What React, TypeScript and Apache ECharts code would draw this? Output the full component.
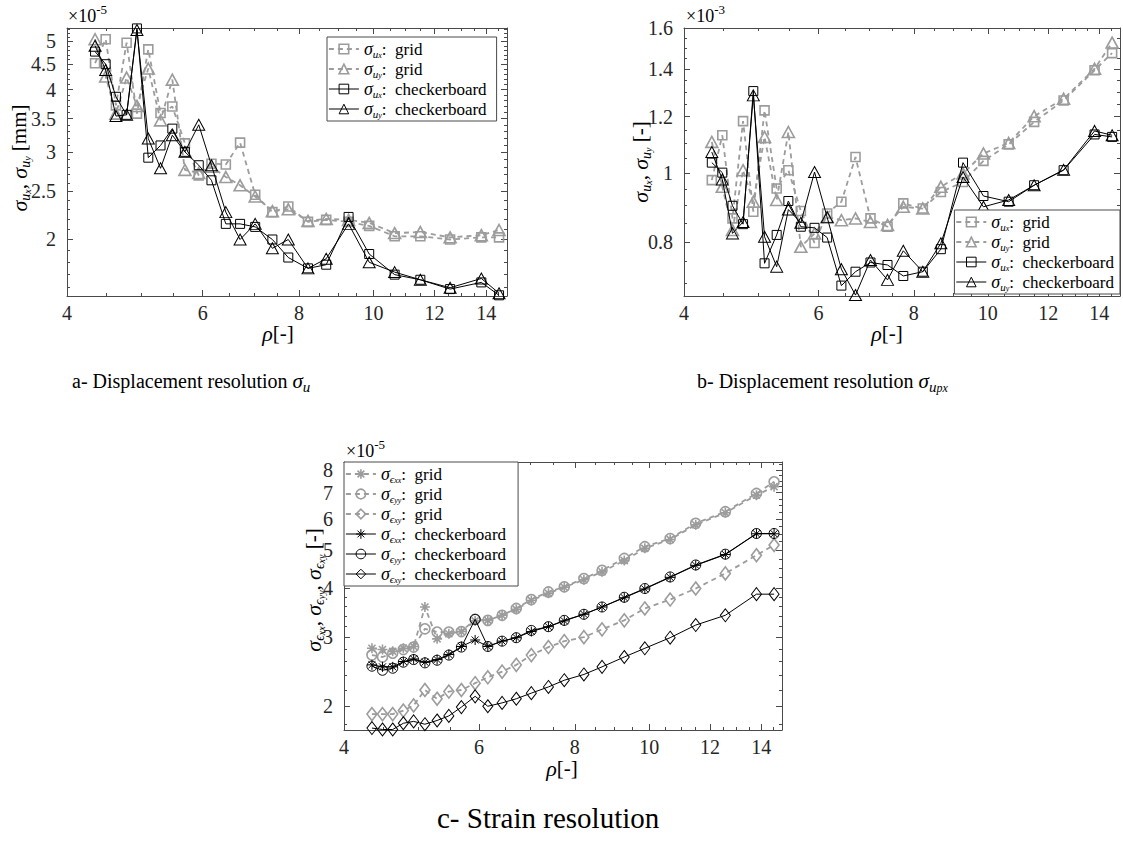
import React, { useEffect, useRef } from "react";
import * as echarts from "echarts";

// ---------- data ----------
const rho = [4.35, 4.49, 4.63, 4.78, 4.93, 5.1, 5.29, 5.48, 5.69, 5.93, 6.16, 6.43, 6.71, 7.02, 7.39, 7.75, 8.22, 8.68, 9.28, 9.87, 10.65, 11.5, 12.57, 13.8, 14.55];

// panel a (x 1e-5 mm)
const aUxGrid = [4.52, 5.05, 3.72, 4.97, 3.58, 4.82, 3.59, 3.7, 3.12, 2.69, 2.84, 2.83, 3.13, 2.46, 2.27, 2.33, 2.17, 2.19, 2.17, 2.13, 2.03, 2.03, 2.0, 2.02, 2.02];
const aUyGrid = [5.05, 4.25, 3.58, 4.23, 3.71, 4.41, 3.47, 4.19, 2.76, 2.72, 2.8, 2.67, 2.57, 2.44, 2.28, 2.3, 2.18, 2.2, 2.19, 2.16, 2.06, 2.07, 2.02, 2.04, 2.09];
const aUxCheck = [4.77, 4.5, 3.87, 3.56, 5.31, 2.92, 3.09, 3.34, 3.0, 2.82, 2.63, 2.15, 2.15, 2.12, 2.0, 1.84, 1.75, 1.78, 2.22, 1.87, 1.7, 1.66, 1.59, 1.64, 1.545];
const aUyCheck = [4.9, 4.38, 3.54, 3.56, 5.27, 3.19, 2.78, 3.24, 3.0, 3.4, 2.82, 2.27, 2.0, 2.15, 1.92, 2.0, 1.75, 1.83, 2.15, 1.8, 1.72, 1.66, 1.6, 1.67, 1.56];

// panel b (x 1e-3 px)
const bUxGrid = [0.977, 1.13, 0.863, 1.183, 0.882, 1.225, 0.951, 1.009, 0.884, 0.797, 0.877, 0.911, 1.053, 0.863, 0.84, 0.906, 0.891, 0.94, 0.971, 1.04, 1.097, 1.18, 1.265, 1.395, 1.475];
const bUyGrid = [1.106, 0.956, 0.831, 1.009, 0.911, 1.124, 0.916, 1.142, 0.787, 0.822, 0.867, 0.858, 0.863, 0.853, 0.845, 0.896, 0.891, 0.956, 0.998, 1.065, 1.102, 1.202, 1.272, 1.402, 1.526];
const bUxCheck = [1.034, 1.001, 0.899, 0.847, 1.304, 0.746, 0.818, 0.913, 0.84, 0.837, 0.811, 0.694, 0.726, 0.748, 0.742, 0.716, 0.726, 0.781, 1.034, 0.928, 0.911, 0.961, 1.009, 1.133, 1.124];
const bUyCheck = [1.07, 0.979, 0.822, 0.853, 1.286, 0.813, 0.738, 0.888, 0.851, 1.003, 0.866, 0.732, 0.673, 0.754, 0.707, 0.777, 0.726, 0.796, 0.987, 0.896, 0.916, 0.961, 1.01, 1.146, 1.13];

// panel c (x 1e-5)
const cExxGrid = [2.81, 2.79, 2.76, 2.81, 2.84, 3.58, 2.97, 3.06, 3.1, 3.3, 3.31, 3.41, 3.53, 3.72, 3.88, 4.02, 4.2, 4.4, 4.7, 5.05, 5.32, 5.8, 6.22, 6.9, 7.25];
const cEyyGrid = [2.7, 2.67, 2.73, 2.79, 2.83, 3.15, 3.09, 3.09, 3.1, 3.33, 3.31, 3.41, 3.55, 3.74, 3.91, 4.03, 4.23, 4.44, 4.76, 5.1, 5.35, 5.85, 6.26, 6.97, 7.46];
const cExyGrid = [1.91, 1.91, 1.91, 1.95, 2.01, 2.2, 2.09, 2.18, 2.2, 2.29, 2.37, 2.45, 2.55, 2.7, 2.83, 2.93, 3.0, 3.14, 3.31, 3.55, 3.74, 3.99, 4.36, 4.85, 5.15];
const cExxCheck = [2.55, 2.52, 2.52, 2.6, 2.64, 2.59, 2.63, 2.71, 2.84, 2.95, 2.84, 2.93, 2.99, 3.1, 3.19, 3.3, 3.43, 3.58, 3.78, 3.98, 4.26, 4.57, 4.87, 5.5, 5.5];
const cEyyCheck = [2.53, 2.47, 2.5, 2.59, 2.63, 2.58, 2.62, 2.7, 2.83, 3.33, 2.84, 2.93, 2.99, 3.12, 3.19, 3.31, 3.43, 3.58, 3.79, 3.99, 4.27, 4.58, 4.88, 5.51, 5.51];
const cExyCheck = [1.76, 1.745, 1.745, 1.81, 1.83, 1.8, 1.84, 1.89, 1.99, 2.12, 2.0, 2.04, 2.09, 2.16, 2.24, 2.33, 2.41, 2.52, 2.67, 2.81, 2.99, 3.22, 3.41, 3.86, 3.86];

// tick labels
const xMajor = [4, 6, 8, 10, 12, 14];
const aYMajor = [2, 2.5, 3, 3.5, 4, 4.5, 5];
const bYMajor = [0.8, 1, 1.2, 1.4, 1.6];
const cYMajor = [2, 3, 4, 5, 6, 7, 8];

// ---------- styles ----------
const SERIF = "Liberation Serif, Times New Roman, serif";
const GREY = "#9c9c9c";
const AX = "#4a4a4a";
const LN = Math.log;

function steps(a: number, b: number, s: number) {
  const out: number[] = [];
  for (let v = a; v <= b + 1e-9; v += s) out.push(Math.round(v * 1000) / 1000);
  return out;
}
const notMajor = (maj: number[]) => (v: number) => !maj.some((m) => Math.abs(m - v) < 1e-6);
const xMinor = steps(4, 14.5, 0.5).filter(notMajor(xMajor));
const aYMinor = steps(1.6, 5.3, 0.1).filter(notMajor(aYMajor));
const bYMinor = steps(0.7, 1.55, 0.05).filter(notMajor(bYMajor));
const cYMinor = [...steps(1.8, 3.8, 0.2), ...steps(4.25, 8.25, 0.25)].filter(notMajor(cYMajor));

const fmt = (v: number) => String(parseFloat(Math.exp(v).toPrecision(6)));

function axesPair(kind: "x" | "y", gridIndex: number, min: number, max: number, major: number[], minor: number[]) {
  const pos = kind === "x" ? ["bottom", "top"] : ["left", "right"];
  const base: any = {
    type: "value",
    gridIndex,
    min: LN(min),
    max: LN(max),
    splitLine: { show: false },
    axisLabel: { show: false },
    axisLine: { show: false, onZero: false },
    axisTick: { show: false },
  };
  const line = { show: true, onZero: false, lineStyle: { color: AX, width: 1 } };
  const majT = { show: true, inside: true, length: 6, customValues: major.map(LN), lineStyle: { color: AX, width: 1 } };
  const minT = { show: true, inside: true, length: 3, customValues: minor.map(LN), lineStyle: { color: AX, width: 1 } };
  return [
    {
      ...base,
      position: pos[0],
      axisLine: line,
      axisTick: majT,
      axisLabel: {
        show: true,
        customValues: major.map(LN),
        formatter: fmt,
        color: "#262626",
        fontFamily: SERIF,
        fontSize: 20,
        margin: kind === "x" ? 7 : 11,
      },
    },
    { ...base, position: pos[0], axisTick: minT },
    { ...base, position: pos[1], axisLine: line, axisTick: majT },
    { ...base, position: pos[1], axisTick: minT },
  ];
}

const STAR = "path://M0,-10L0,10M-10,0L10,0M-7.07,-7.07L7.07,7.07M-7.07,7.07L7.07,-7.07";

function ser(name: string, panel: number, ys: number[], grey: boolean, symbol: string, size: any) {
  const color = grey ? GREY : "#000";
  return {
    type: "line",
    name,
    xAxisIndex: panel * 4,
    yAxisIndex: panel * 4,
    data: rho.map((x, i) => [LN(x), LN(ys[i])]),
    symbol,
    symbolSize: size,
    showAllSymbol: true,
    clip: false,
    z: grey ? 2 : 3,
    lineStyle: { color, width: grey ? 1.8 : 1, type: grey ? [5, 4] : "solid" },
    itemStyle: { color: "transparent", borderColor: color, borderWidth: grey ? 1.6 : 1 },
    emphasis: { disabled: true },
  };
}

const legRich = {
  s: { fontFamily: SERIF, fontStyle: "italic", fontSize: 18, lineHeight: 20, color: "#000" },
  u: { fontFamily: SERIF, fontStyle: "italic", fontSize: 11, lineHeight: 12, verticalAlign: "bottom", color: "#000" },
  v: { fontFamily: SERIF, fontStyle: "italic", fontSize: 8, lineHeight: 6, verticalAlign: "bottom", color: "#000" },
  t: { fontFamily: SERIF, fontSize: 17, lineHeight: 20, color: "#000" },
};

const legendLabels: Record<string, string> = {
  a1: "{s|σ}{u|u}{v|x}{t|:  grid}",
  a2: "{s|σ}{u|u}{v|y}{t|:  grid}",
  a3: "{s|σ}{u|u}{v|x}{t|:  checkerboard}",
  a4: "{s|σ}{u|u}{v|y}{t|:  checkerboard}",
  b1: "{s|σ}{u|u}{v|x}{t|:  grid}",
  b2: "{s|σ}{u|u}{v|y}{t|:  grid}",
  b3: "{s|σ}{u|u}{v|x}{t|:  checkerboard}",
  b4: "{s|σ}{u|u}{v|y}{t|:  checkerboard}",
  c1: "{s|σ}{u|ϵ}{v|xx}{t|:  grid}",
  c2: "{s|σ}{u|ϵ}{v|yy}{t|:  grid}",
  c3: "{s|σ}{u|ϵ}{v|xy}{t|:  grid}",
  c4: "{s|σ}{u|ϵ}{v|xx}{t|:  checkerboard}",
  c5: "{s|σ}{u|ϵ}{v|yy}{t|:  checkerboard}",
  c6: "{s|σ}{u|ϵ}{v|xy}{t|:  checkerboard}",
};

function legend(names: string[], pos: any, padRight: number) {
  return {
    ...pos,
    orient: "vertical",
    data: names,
    itemWidth: 30,
    itemHeight: 12,
    itemGap: 1,
    padding: [3, padRight, 2, 1],
    backgroundColor: "#fff",
    borderColor: AX,
    borderWidth: 1,
    borderRadius: 0,
    selectedMode: false,
    lineStyle: { width: "inherit" },
    itemStyle: { borderWidth: "inherit" },
    formatter: (n: string) => legendLabels[n],
    textStyle: { rich: legRich, fontFamily: SERIF, fontSize: 17, color: "#000" },
    z: 10,
  };
}

const bigRich = {
  S: { fontFamily: SERIF, fontStyle: "italic", fontSize: 22, lineHeight: 26, color: "#000" },
  U: { fontFamily: SERIF, fontStyle: "italic", fontSize: 14, lineHeight: 14, verticalAlign: "bottom", color: "#000" },
  V: { fontFamily: SERIF, fontStyle: "italic", fontSize: 10, lineHeight: 8, verticalAlign: "bottom", color: "#000" },
  T: { fontFamily: SERIF, fontSize: 21, lineHeight: 26, color: "#000" },
};

const expRich = {
  A: { fontFamily: SERIF, fontSize: 18, lineHeight: 22, verticalAlign: "bottom", color: "#262626" },
  B: { fontFamily: SERIF, fontSize: 13, lineHeight: 10, verticalAlign: "top", color: "#262626" },
};

const capRich = {
  C: { fontFamily: SERIF, fontSize: 20, lineHeight: 26, color: "#000" },
  CS: { fontFamily: SERIF, fontStyle: "italic", fontSize: 21, lineHeight: 26, color: "#000" },
  CU: { fontFamily: SERIF, fontStyle: "italic", fontSize: 15, lineHeight: 14, verticalAlign: "bottom", color: "#000" },
  CV: { fontFamily: SERIF, fontStyle: "italic", fontSize: 12, lineHeight: 6, verticalAlign: "bottom", color: "#000" },
  CC: { fontFamily: SERIF, fontSize: 29, lineHeight: 34, color: "#000" },
};

function txt(x: number, y: number, text: string, rich: any, opts: any = {}) {
  return {
    type: "text",
    x,
    y,
    rotation: opts.rotation || 0,
    silent: true,
    z: 20,
    style: { text, rich, align: opts.align || "center", verticalAlign: "middle", fill: "#000" },
  };
}

export default function App() {
  const ref = useRef<HTMLDivElement>(null);
  useEffect(() => {
    if (!ref.current) return;
    const chart = echarts.init(ref.current, undefined, { renderer: "svg" });
    const XMAX = 14.9;
    const option: any = {
      animation: false,
      backgroundColor: "#fff",
      grid: [
        { left: 67, top: 28, width: 440, height: 268 },
        { left: 684, top: 28, width: 436, height: 268 },
        { left: 344, top: 462, width: 438, height: 268 },
      ],
      xAxis: [
        ...axesPair("x", 0, 4, XMAX, xMajor, xMinor),
        ...axesPair("x", 1, 4, XMAX, xMajor, xMinor),
        ...axesPair("x", 2, 4, XMAX, xMajor, xMinor),
      ],
      yAxis: [
        ...axesPair("y", 0, 1.54, 5.32, aYMajor, aYMinor),
        ...axesPair("y", 1, 0.671, 1.6, bYMajor, bYMinor),
        ...axesPair("y", 2, 1.74, 8.38, cYMajor, cYMinor),
      ],
      legend: [
        legend(["a1", "a2", "a3", "a4"], { left: 327, top: 37 }, 10),
        legend(["b1", "b2", "b3", "b4"], { right: 3, top: 210 }, 6),
        legend(["c1", "c2", "c3", "c4", "c5", "c6"], { left: 344, top: 462 }, 12),
      ],
      series: [
        ser("a1", 0, aUxGrid, true, "rect", 9),
        ser("a2", 0, aUyGrid, true, "triangle", [12, 11]),
        ser("a3", 0, aUxCheck, false, "rect", 9),
        ser("a4", 0, aUyCheck, false, "triangle", [12, 11]),
        ser("b1", 1, bUxGrid, true, "rect", 9),
        ser("b2", 1, bUyGrid, true, "triangle", [12, 11]),
        ser("b3", 1, bUxCheck, false, "rect", 9),
        ser("b4", 1, bUyCheck, false, "triangle", [12, 11]),
        ser("c1", 2, cExxGrid, true, STAR, 10),
        ser("c2", 2, cEyyGrid, true, "circle", 10),
        ser("c3", 2, cExyGrid, true, "diamond", [10, 13]),
        ser("c4", 2, cExxCheck, false, STAR, 10),
        ser("c5", 2, cEyyCheck, false, "circle", 10),
        ser("c6", 2, cExyCheck, false, "diamond", [10, 13]),
      ],
      graphic: {
        elements: [
          txt(68, 14, "{A|×10}{B|-5}", expRich, { align: "left" }),
          txt(686, 14, "{A|×10}{B|-3}", expRich, { align: "left" }),
          txt(346, 449, "{A|×10}{B|-5}", expRich, { align: "left" }),
          txt(19, 158, "{S|σ}{U|u}{V|x}{T|, }{S|σ}{U|u}{V|y}{T| [mm]}", bigRich, { rotation: Math.PI / 2 }),
          txt(640, 162, "{S|σ}{U|u}{V|x}{T|, }{S|σ}{U|u}{V|y}{T| [-]}", bigRich, { rotation: Math.PI / 2 }),
          txt(313, 590, "{S|σ}{U|ϵ}{V|xx}{T|, }{S|σ}{U|ϵ}{V|yy}{T|, }{S|σ}{U|ϵ}{V|xy}{T| [-]}", bigRich, { rotation: Math.PI / 2 }),
          txt(278, 333, "{S|ρ}{T|[-]}", bigRich),
          txt(887, 333, "{S|ρ}{T|[-]}", bigRich),
          txt(562, 768, "{S|ρ}{T|[-]}", bigRich),
          txt(72, 381, "{C|a- Displacement resolution }{CS|σ}{CU|u}", capRich, { align: "left" }),
          txt(697, 381, "{C|b- Displacement resolution }{CS|σ}{CU|u}{CV|px}", capRich, { align: "left" }),
          txt(437, 818, "{CC|c- Strain resolution}", capRich, { align: "left" }),
        ],
      },
    };
    chart.setOption(option);
    return () => chart.dispose();
  }, []);
  return (
    <div
      ref={ref}
      style={{ position: "fixed", left: 0, top: 0, width: 1123, height: 844, background: "#fff" }}
    />
  );
}
